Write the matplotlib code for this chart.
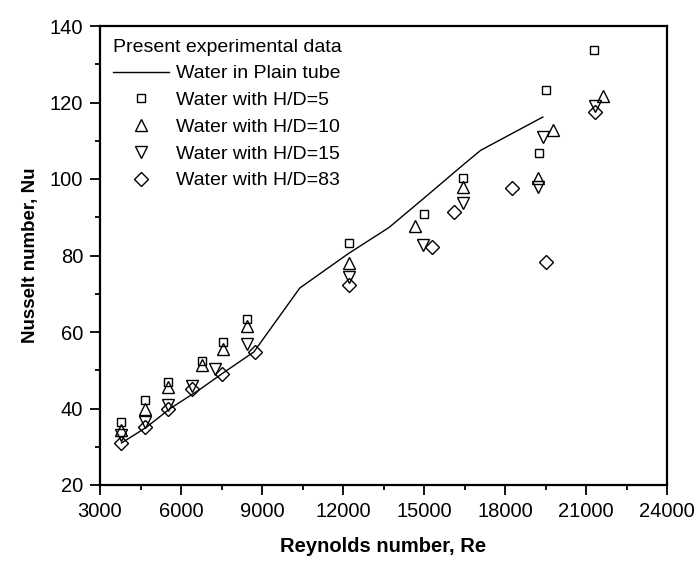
import matplotlib
matplotlib.use("Agg")
import matplotlib.pyplot as plt
from matplotlib.ticker import MultipleLocator

plt.rcParams['font.family'] = ['Liberation Sans', 'DejaVu Sans']

# Plain tube (line)
re_plain = [3800, 4700, 5600, 6700, 7500, 8700, 10400, 12200, 13700, 15000, 16500, 17100, 19400]
nu_plain = [31, 35, 40, 45, 49, 54.8, 71.5, 80.5, 87.3, 95, 104, 107.5, 116.2]

# H/D = 5 (squares)
re_hd5 = [3780, 4680, 5520, 6780, 7550, 8440, 12220, 15000, 16440, 19260, 19520, 21300]
nu_hd5 = [36.6, 42.2, 47.0, 52.3, 57.3, 63.5, 83.2, 90.8, 100.2, 106.8, 123.3, 133.8]

# H/D = 10 (up triangles)
re_hd10 = [3780, 4680, 5520, 6780, 7550, 8440, 12220, 14670, 16440, 19220, 19780, 21630]
nu_hd10 = [34.3, 39.8, 45.5, 51.5, 55.6, 61.6, 78.0, 87.8, 97.8, 100.3, 112.8, 121.8]

# H/D = 15 (down triangles)
re_hd15 = [3780, 4680, 5520, 6400, 7260, 8440, 12220, 14960, 16440, 19220, 19410, 21330]
nu_hd15 = [33.0, 36.5, 41.0, 46.0, 50.2, 56.8, 74.5, 82.8, 93.7, 98.0, 111.0, 119.0]

# H/D = 83 (diamonds)
re_hd83 = [3780, 4680, 5500, 6400, 7520, 8740, 12220, 15300, 16110, 18260, 19520, 21330]
nu_hd83 = [31.0, 35.2, 40.0, 45.2, 48.9, 54.8, 72.3, 82.2, 91.4, 97.7, 78.2, 117.6]

fig = plt.figure(figsize=(6.99, 5.61), dpi=100)
ax = fig.add_axes([100/699, 1-485/561, 567/699, 459/561])

ax.plot(re_plain, nu_plain, color='black', lw=1.0, label='Water in Plain tube')
mk = dict(ls='none', mfc='none', mec='black', mew=1.0)
ax.plot(re_hd5, nu_hd5, marker='s', ms=6, label='Water with H/D=5', **mk)
ax.plot(re_hd10, nu_hd10, marker='^', ms=8, label='Water with H/D=10', **mk)
ax.plot(re_hd15, nu_hd15, marker='v', ms=8, label='Water with H/D=15', **mk)
ax.plot(re_hd83, nu_hd83, marker='D', ms=6.8, label='Water with H/D=83', **mk)

ax.set_xlim(3000, 24000)
ax.set_ylim(20, 140)
ax.xaxis.set_major_locator(MultipleLocator(3000))
ax.xaxis.set_minor_locator(MultipleLocator(1500))
ax.yaxis.set_major_locator(MultipleLocator(20))
ax.yaxis.set_minor_locator(MultipleLocator(10))
ax.tick_params(which='both', direction='out', top=False, right=False,
               labelsize=14.5, width=1.3, colors='black', pad=5)
ax.tick_params(which='major', length=7)
ax.tick_params(which='minor', length=3.5)
for s in ax.spines.values():
    s.set_linewidth(1.6)

ax.set_xlabel('Reynolds number, Re', fontsize=14.5, fontweight='bold', labelpad=12)
ax.set_ylabel('Nusselt number, Nu', fontsize=13.5, fontweight='bold', labelpad=8)

leg = ax.legend(title='Present experimental data', loc='upper left', frameon=False,
                fontsize=14, title_fontsize=14, alignment='left',
                handlelength=2.9, handletextpad=0.35, labelspacing=0.47,
                borderaxespad=0.2, borderpad=0.45)

fig.savefig('out.png', dpi=100)
